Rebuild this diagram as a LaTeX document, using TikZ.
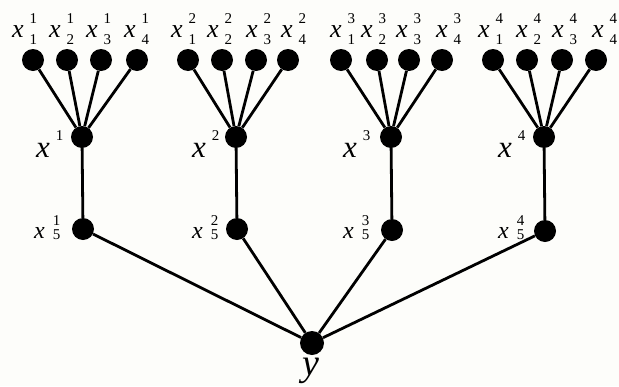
\documentclass[tikz,border=0pt]{standalone}
\usepackage{fontspec}
\setmainfont{Liberation Serif}
\newfontfamily\tms{Liberation Serif}
\definecolor{bgc}{RGB}{253,253,250}
\newcommand{\TopLab}[2]{{\tms\fontsize{26}{26}\selectfont\itshape x}\kern6pt\rlap{\raisebox{14pt}{\tms\fontsize{15}{15}\selectfont #1}}\raisebox{-7pt}{\tms\fontsize{15}{15}\selectfont #2}}
\newcommand{\MidLab}[1]{{\tms\fontsize{31}{31}\selectfont\itshape x}\kern6pt\raisebox{17pt}{\tms\fontsize{15}{15}\selectfont #1}}
\newcommand{\FivLab}[1]{{\tms\fontsize{24}{24}\selectfont\itshape x}\kern8pt\rlap{\raisebox{13pt}{\tms\fontsize{15}{15}\selectfont #1}}\raisebox{-1pt}{\tms\fontsize{15}{15}\selectfont 5}}
\begin{document}
\begin{tikzpicture}[x=1pt,y=-1pt,
  dot/.style={circle,fill=black,inner sep=0pt,minimum size=22pt},
  edge/.style={line width=2.8pt},
  lab/.style={anchor=base west,inner sep=0pt}]
\fill[bgc] (0,0) rectangle (619,386);
\useasboundingbox (0,0) rectangle (619,386);
% leaves
\foreach \g/\i/\px in {1/1/33,1/2/67,1/3/101,1/4/137,
                       2/1/188,2/2/222,2/3/256,2/4/288,
                       3/1/341,3/2/377,3/3/409,3/4/442,
                       4/1/493,4/2/527,4/3/562,4/4/596}
  \node[dot] (a\g\i) at (\px,60) {};
% middle nodes
\foreach \g/\px in {1/82,2/236,3/391,4/544}
  \node[dot] (m\g) at (\px,137) {};
% lower nodes
\foreach \g/\px/\py in {1/83/229,2/237/229,3/392/230,4/545/231}
  \node[dot] (f\g) at (\px,\py) {};
% output node
\node[dot,minimum size=24pt] (y) at (312,343) {};
% edges
\foreach \g in {1,...,4}{
  \foreach \i in {1,...,4} \draw[edge] (m\g) -- (a\g\i);
  \draw[edge] (m\g) -- (f\g);
  \draw[edge] (f\g) -- (y);
}
% top labels
\foreach \g/\i/\px in {1/1/12,1/2/49,1/3/86,1/4/124,
                       2/1/171,2/2/207,2/3/246,2/4/281,
                       3/1/330,3/2/361,3/3/396,3/4/436,
                       4/1/478,4/2/516,4/3/552,4/4/592}
  \node[lab] (t\g\i) at (\px,37) {\TopLab{\g}{\i}};
% middle labels
\foreach \g/\px in {1/36,2/192,3/343,4/498}
  \node[lab] (ml\g) at (\px,157) {\MidLab{\g}};
% lower labels
\foreach \g/\px in {1/34,2/192,3/343,4/498}
  \node[lab] (fl\g) at (\px,238) {\FivLab{\g}};
% y label
\node[lab] (yl) at (302,375) {\tms\fontsize{38}{38}\selectfont\itshape y};
\end{tikzpicture}
\end{document}
